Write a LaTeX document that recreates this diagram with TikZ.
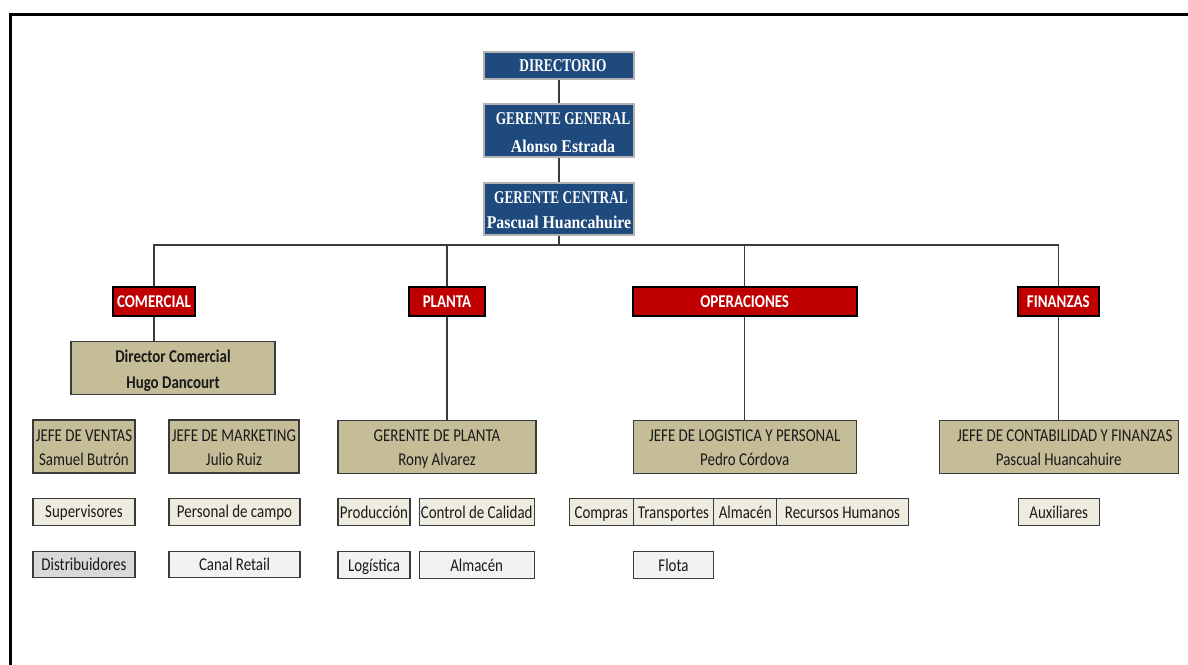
\documentclass[tikz,border=0pt]{standalone}
\usepackage{fontspec}
\setmainfont{Carlito}[FakeStretch=0.83]
\newfontfamily\hdrfont{Liberation Serif}[FakeStretch=0.74]
\newfontfamily\hdrname{Liberation Serif}[FakeStretch=0.88]
\definecolor{hdrblue}{HTML}{1F4A7E}
\definecolor{hdrred}{HTML}{C00000}
\definecolor{tanfill}{HTML}{C4BD97}
\definecolor{beigefill}{HTML}{EEECE1}
\definecolor{whitefill}{HTML}{F2F2F2}
\definecolor{greyfill}{HTML}{D9D9D9}
\definecolor{boxline}{HTML}{3A3A3A}
% #1 height of first row, #2 height of second row, #3 first line, #4 second line
\newcommand\twolines[4]{{\fontsize{18}{14}\selectfont
  \begin{tabular}{@{}c@{}}\rule{0pt}{#1}#3\\\rule{0pt}{#2}#4\end{tabular}}}
\tikzset{
  box/.style={draw=boxline, line width=1.2pt, inner sep=0pt, align=center,
    font=\fontsize{18}{24}\selectfont, text=black!90},
  oneline/.style={text height=12.5pt, text depth=0pt},
  bluebox/.style={box, fill=hdrblue, draw=gray!60, text=white,
    font=\hdrfont\bfseries\fontsize{18}{27}\selectfont, minimum width=150},
  redbox/.style={box, oneline, fill=hdrred, draw=black, line width=2.2pt, text=white,
    font=\bfseries\fontsize{18}{20}\selectfont, minimum height=29},
  tanbox/.style={box, fill=tanfill, minimum height=53},
  beigebox/.style={box, oneline, fill=beigefill, minimum height=27},
  whitebox/.style={box, oneline, fill=whitefill, minimum height=27},
  greybox/.style={box, oneline, fill=greyfill, minimum height=27},
  link/.style={draw=boxline, line width=1.2pt},
}
\begin{document}
\begin{tikzpicture}[x=1pt,y=-1pt]
\useasboundingbox (0,0) rectangle (1188,664);
\clip (0,0) rectangle (1188,664);
\fill[white] (0,0) rectangle (1188,664);
\draw[line width=3pt] (10,14.5) rectangle (1220,700);

% top
\node[bluebox, oneline, minimum height=27] (dir) at (559,65.5) {\hspace*{8pt}DIRECTORIO};
\node[bluebox, minimum height=53] (gg) at (559,130.5) {\twolines{19.5pt}{23.5pt}{\hspace*{8pt}GERENTE GENERAL}{\hspace*{8pt}{\hdrname Alonso Estrada}}};
\node[bluebox, minimum height=52] (gc) at (559,209) {\twolines{18.2pt}{20.8pt}{\hspace*{4pt}GERENTE CENTRAL}{{\hdrname Pascual Huancahuire}}};

% areas
\node[redbox, minimum width=82] (com) at (154,301.5) {COMERCIAL};
\node[redbox, minimum width=76] (pla) at (447,301.5) {PLANTA};
\node[redbox, minimum width=224] (ope) at (744.7,301.5) {OPERACIONES};
\node[redbox, minimum width=81] (fin) at (1058.3,301.5) {FINANZAS};

% heads
\node[tanbox, minimum width=204, font=\bfseries\fontsize{18}{26}\selectfont] (dc) at (173,368) {\twolines{19.8pt}{21.8pt}{Director Comercial}{Hugo Dancourt}};
\node[tanbox, minimum width=102] (jv) at (84,446.5) {\twolines{17.8pt}{19.8pt}{JEFE DE VENTAS}{Samuel Butrón}};
\node[tanbox, minimum width=130] (jm) at (234,446.5) {\twolines{17.8pt}{19.8pt}{JEFE DE MARKETING}{Julio Ruiz}};
\node[tanbox, minimum width=198] (gp) at (437,447) {\twolines{17.8pt}{19.8pt}{GERENTE DE PLANTA}{Rony Alvarez}};
\node[tanbox, minimum width=223] (jl) at (744.7,447) {\twolines{17.8pt}{19.8pt}{JEFE DE LOGISTICA Y PERSONAL}{Pedro Córdova}};
\node[tanbox, minimum width=239] (jc) at (1058.7,447) {\twolines{17.8pt}{19.8pt}{\hspace*{12pt}JEFE DE CONTABILIDAD Y FINANZAS}{Pascual Huancahuire}};

% staff
\node[beigebox, minimum width=102] (sup) at (84,511.7) {Supervisores};
\node[beigebox, minimum width=131] (pc) at (234.5,511.7) {Personal de campo};
\node[greybox, minimum width=102, minimum height=26] (dis) at (84,564.7) {Distribuidores};
\node[whitebox, minimum width=131, minimum height=26] (cr) at (234.5,564.7) {Canal Retail};

\node[beigebox, minimum width=72] (pro) at (374,512) {Producción};
\node[beigebox, minimum width=115] (cc) at (476.7,512) {Control de Calidad};
\node[whitebox, minimum width=72] (log) at (374,565) {Logística};
\node[whitebox, minimum width=115] (alp) at (476.7,565) {Almacén};

\node[beigebox, minimum width=64] (comp) at (601.3,512) {Compras};
\node[beigebox, minimum width=80.4] (tra) at (673.5,512) {Transportes};
\node[beigebox, minimum width=63] (alo) at (745.2,512) {Almacén};
\node[beigebox, minimum width=131.6] (rh) at (842.5,512) {Recursos Humanos};
\node[whitebox, minimum width=80.4] (flo) at (673.5,565) {Flota};

\node[beigebox, minimum width=81] (aux) at (1058.7,512) {Auxiliares};

% connectors
\coordinate (bus) at (559,245);
\draw[link] (dir.south) -- (gg.north);
\draw[link] (gg.south) -- (gc.north);
\draw[link] (gc.south) -- (bus);
\draw[link] (com.north) |- (bus) -| (fin.north);
\draw[link] (pla.north) -- (pla.north |- bus);
\draw[link] (ope.north) -- (ope.north |- bus);
\draw[link] (com.south) -- (com.south |- dc.north);
\draw[link] (pla.south) -- (pla.south |- gp.north);
\draw[link] (ope.south) -- (ope.south |- jl.north);
\draw[link] (fin.south) -- (fin.south |- jc.north);
\end{tikzpicture}
\end{document}
